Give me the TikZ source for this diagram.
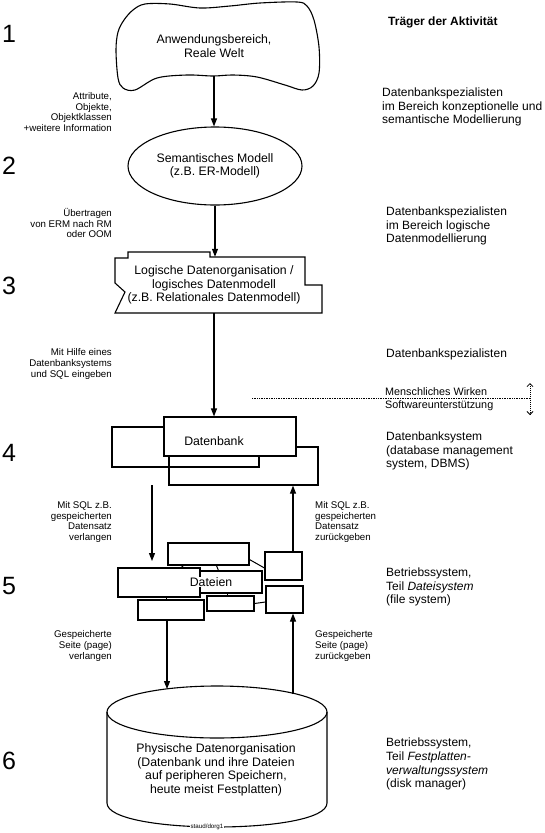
\documentclass[tikz,border=0pt]{standalone}
\usepackage{fontspec}
\setmainfont{Liberation Sans}
\usetikzlibrary{arrows.meta,shapes.geometric,calc}
\begin{document}
\begin{tikzpicture}[x=1pt,y=-1pt,
  shp/.style={draw, line width=1.1pt, line join=miter},
  arr/.style={line width=1.1pt, -{Triangle[length=8pt,width=6pt]}},
  conn/.style={line width=1pt},
  main/.style={font=\fontsize{12.3}{13.5}\selectfont, align=center, inner sep=0},
  rcol/.style={font=\fontsize{12}{13.8}\selectfont, align=left, anchor=west, inner sep=0},
  lab/.style={font=\fontsize{9.7}{10.9}\selectfont, align=right, anchor=east, inner sep=0},
  labr/.style={font=\fontsize{9.7}{10.9}\selectfont, align=left, anchor=west, inner sep=0},
  sml/.style={font=\fontsize{10.8}{10.8}\selectfont, anchor=west, inner sep=0},
  num/.style={font=\fontsize{25}{25}\selectfont, inner sep=0},
  box/.style={draw, line width=1.1pt, inner sep=0},
]
\useasboundingbox (0,0) rectangle (544,833);
\fill[white] (0,0) rectangle (544,833);

% numbers
\node[num] (n1) at (9,34) {1};
\node[num] (n2) at (9,166) {2};
\node[num] (n3) at (9,286) {3};
\node[num] (n4) at (9,453) {4};
\node[num] (n5) at (9,586) {5};
\node[num] (n6) at (9,761) {6};

% level 1: cloud
\draw[shp] plot[smooth cycle, tension=0.55] coordinates {
 (124,20) (133,10) (145,4) (170,4) (200,8) (230,6) (260,3) (297,2) (307,6)
 (314,20) (319,47) (319,73) (313,86) (302,90) (285,85) (257,77) (233,75)
 (213,76) (187,75) (157,78) (135,90) (123,88) (118,78) (116,50) (118,32)};
\node[main, minimum height=60] (cloud) at (214,46) {Anwendungsbereich,\\Reale Welt};

% level 2: ellipse
\node[ellipse, draw, line width=1.1pt, minimum width=174, minimum height=78, main] (sem) at (215,166) {Semantisches Modell\\(z.B. ER-Modell)};

% level 3: logical box
\draw[shp] (115,258) -- (128,258) -- (128,252) -- (210,252) -- (210,257) -- (305,257)
  -- (305,285) -- (322,285) -- (322,313) -- (115,313) -- (125,292) -- (115,283) -- cycle;
\node[main, minimum height=56] (logik) at (214,285) {Logische Datenorganisation /\\logisches Datenmodell\\(z.B. Relationales Datenmodell)};

% level 4: Datenbank
\node[box, minimum width=147, minimum height=40] (dbl) at (185.5,447) {};
\node[box, minimum width=149, minimum height=38] (dbr) at (243.5,466) {};
\node[box, fill=white, minimum width=132, minimum height=39] (db) at (230,436.5) {};
\node[main] (dbtext) at (214,441) {Datenbank};

% level 5: Dateien
\node[box, minimum width=81, minimum height=22] (fA) at (208.5,554) {};
\node[box, minimum width=82, minimum height=29] (fB) at (159,582.5) {};
\node[box, minimum width=62, minimum height=22] (fC) at (231,582) {};
\node[box, minimum width=66, minimum height=20] (fD) at (171,610) {};
\node[box, minimum width=47, minimum height=15] (fE) at (230.5,603.5) {};
\node[box, minimum width=37, minimum height=28] (fF) at (283.5,566) {};
\node[box, minimum width=37, minimum height=27] (fG) at (284.5,599.5) {};
\node[main, fill=white, inner sep=0.6] (dateien) at (211,582) {Dateien};

\draw[conn] ($(fA.south west)+(14,0)$) -- ($(fB.north west)+(66,0)$);
\draw[conn] ($(fA.south west)+(49,0)$) -- ($(fC.north west)+(19,0)$);
\draw[conn] ($(fA.south east)+(0,-6)$) -- ($(fF.west)+(0,2)$);
\draw[conn] ($(fB.south west)+(49,0)$) -- ($(fD.north west)+(29,0)$);
\draw[conn] ($(fC.south west)+(28,0)$) -- ($(fE.north west)+(21,0)$);
\draw[conn] (fE.east) -- ($(fG.west)+(0,2.5)$);

% level 6: cylinder
\draw[shp] (217,712) ellipse [x radius=110, y radius=26];
\draw[shp] (107,712) -- (107,803) .. controls (107,835) and (327,835) .. (327,803) -- (327,712);
\node[main] (cyl) at (216,770) {Physische Datenorganisation\\(Datenbank und ihre Dateien\\auf peripheren Speichern,\\heute meist Festplatten)};
\node[font=\fontsize{6.2}{6.2}\selectfont, fill=white, inner sep=0.6] (staud) at (207,827) {staud/dorg1};

% main arrows
\draw[arr] (cloud.south) -- (cloud.south |- sem.north);
\draw[arr] (sem.south) -- (sem.south |- logik.north);
\draw[arr] (logik.south) -- (logik.south |- db.north);

\coordinate (d1) at (152,485);
\coordinate (d2) at (152,561);
\draw[arr] (d1) -- (d2);
\coordinate (u) at (293,0);
\draw[arr] (fF.north -| u) -- (dbr.south -| u);

\coordinate (cylL) at (167,689);
\coordinate (cylR) at (293,694);
\draw[arr] (fD.south -| cylL) -- (cylL);
\draw[arr] (cylR) -- (cylR |- fG.south);

% dotted separator
\coordinate (dl1) at (252,398);
\coordinate (dl2) at (530,398);
\draw[line width=0.8pt, dash pattern=on 0.8pt off 0.9pt] (dl1) -- (dl2);
\coordinate (va) at (530,383);
\coordinate (vb) at (530,415);
\draw[line width=0.8pt, dash pattern=on 1pt off 1pt, {Straight Barb[length=3pt,width=6pt]}-{Straight Barb[length=3pt,width=6pt]}] (va) -- (vb);
\node[sml] (mw) at (385,392) {Menschliches Wirken};
\node[sml] (sw) at (385,406) {Softwareunterstützung};

% right column
\node[font=\fontsize{12}{12}\bfseries\selectfont, anchor=west, inner sep=0] (traeger) at (388,22) {Träger der Aktivität};
\node[rcol] (r1) at (382,107) {Datenbankspezialisten\\im Bereich konzeptionelle und\\semantische Modellierung};
\node[rcol] (r2) at (386,226) {Datenbankspezialisten\\im Bereich logische\\Datenmodellierung};
\node[rcol] (r3) at (386,354) {Datenbankspezialisten};
\node[rcol] (r4) at (386,451) {Datenbanksystem\\(database management\\system, DBMS)};
\node[rcol] (r5) at (386,587) {Betriebssystem,\\Teil \textit{Dateisystem}\\(file system)};
\node[rcol] (r6) at (386,764) {Betriebssystem,\\Teil \textit{Festplatten-}\\\textit{verwaltungssystem}\\(disk manager)};

% left labels
\node[lab] (l1) at (112,112) {Attribute,\\Objekte,\\Objektklassen\\+weitere Information};
\node[lab] (l2) at (112,223) {Übertragen\\von ERM nach RM\\oder OOM};
\node[lab] (l3) at (112,364) {Mit Hilfe eines\\Datenbanksystems\\und SQL eingeben};
\node[lab] (l4) at (112,522) {Mit SQL z.B.\\gespeicherten\\Datensatz\\verlangen};
\node[labr] (l5) at (315,522) {Mit SQL z.B.\\gespeicherten\\Datensatz\\zurückgeben};
\node[lab] (l6) at (112,646) {Gespeicherte\\Seite (page)\\verlangen};
\node[labr] (l7) at (315,646) {Gespeicherte\\Seite (page)\\zurückgeben};
\end{tikzpicture}
\end{document}
